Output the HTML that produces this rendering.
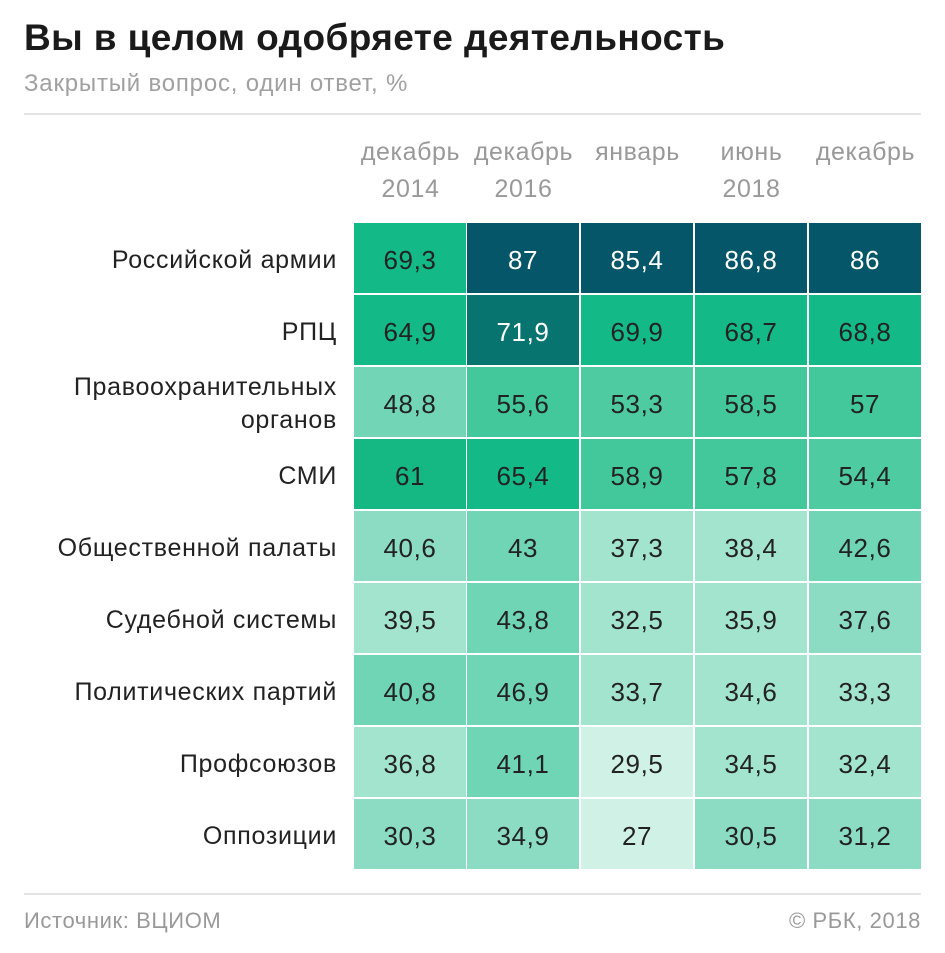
<!DOCTYPE html>
<html><head><meta charset="utf-8"><style>
body{margin:0;width:945px;height:953px;background:#fff;font-family:"Liberation Sans","DejaVu Sans",sans-serif;position:relative;overflow:hidden}
.a{position:absolute}
.t{left:24px;top:17px;font-size:37px;font-weight:bold;color:#1a1a1a;white-space:nowrap;letter-spacing:0.4px}
.s{left:24px;top:70px;font-size:24px;color:#a0a0a0;letter-spacing:0.8px;white-space:nowrap}
.hl{left:24px;width:897px;height:2px;background:#e3e3e3}
.h{width:113px;text-align:center;font-size:25px;color:#999;line-height:37px;top:134px;letter-spacing:0.6px;white-space:nowrap}
.c{width:112px;height:70px;line-height:74px;text-align:center;font-size:26px;color:#222;letter-spacing:0.6px}
.w{color:#fff}
.l{right:608px;text-align:right;font-size:25px;color:#222;width:340px;line-height:33px;letter-spacing:0.7px;white-space:nowrap}
.f{top:908px;font-size:22px;color:#999;letter-spacing:0.6px}
</style></head><body>
<div class="a t">Вы в целом одобряете деятельность</div>
<div class="a s">Закрытый вопрос, один ответ, %</div>
<div class="a hl" style="top:113px"></div>
<div class="a hl" style="top:893px"></div>
<div class="a h" style="left:354px">декабрь<br>2014</div>
<div class="a h" style="left:467px">декабрь<br>2016</div>
<div class="a h" style="left:581px">январь</div>
<div class="a h" style="left:695px">июнь<br>2018</div>
<div class="a h" style="left:809px">декабрь</div>
<div id="g"></div>
<div class="a f" style="left:24px">Источник: ВЦИОМ</div>
<div class="a f" style="right:24px">© РБК, 2018</div>
<script>
var labels=["Российской армии","РПЦ","Правоохранительных<br>органов","СМИ","Общественной палаты","Судебной системы","Политических партий","Профсоюзов","Оппозиции"];
var N='#055668',T='#08746f',G='#13ba87',M='#43c89c',M2='#4ecba1',L='#6fd5b5',L2='#8bdcc2',P='#a3e4cf',X='#d0f1e6';
var d=[
[["69,3",G],["87",N],["85,4",N],["86,8",N],["86",N]],
[["64,9",G],["71,9",T],["69,9",G],["68,7",G],["68,8",G]],
[["48,8",'#72d6b6'],["55,6",M],["53,3",M2],["58,5",M],["57",M]],
[["61",'#15b882'],["65,4",G],["58,9",M],["57,8",M],["54,4",M2]],
[["40,6",L2],["43",L],["37,3",P],["38,4",P],["42,6",L]],
[["39,5",P],["43,8",L],["32,5",P],["35,9",P],["37,6",L2]],
[["40,8",L],["46,9",L],["33,7",P],["34,6",P],["33,3",P]],
[["36,8",P],["41,1",L],["29,5",X],["34,5",P],["32,4",P]],
[["30,3",L2],["34,9",L2],["27",X],["30,5",L2],["31,2",L2]]];
var xs=[354,467,581,695,809],h='';
for(var r=0;r<9;r++){var y=223+r*72;
var two=labels[r].indexOf('<br>')>0;
h+='<div class="a l" style="top:'+(y+(two?4:21))+'px">'+labels[r]+'</div>';
for(var c=0;c<5;c++){var v=d[r][c];var dark=(v[1]==N||v[1]==T);
h+='<div class="a c'+(dark?' w':'')+'" style="left:'+xs[c]+'px;top:'+y+'px;background:'+v[1]+'">'+v[0]+'</div>';}}
document.getElementById('g').innerHTML=h;
</script>
</body></html>
